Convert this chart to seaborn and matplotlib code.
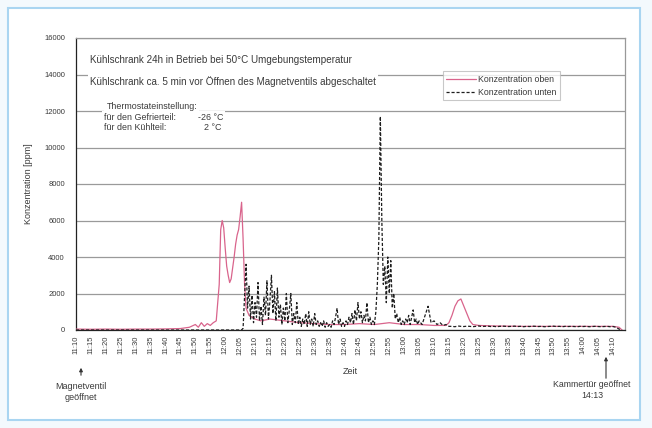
import numpy as np
import pandas as pd
import matplotlib
matplotlib.use("Agg")
import matplotlib.pyplot as plt
import seaborn as sns
from matplotlib.patches import Rectangle

# ---------------- data ----------------
# minutes after 11:10
t_oben = [0, 5, 10, 15, 20, 25, 30, 35, 38, 40, 41, 42, 43, 44, 45, 46, 47, 48,
          48.5, 49, 49.5, 50, 50.5, 51, 51.5, 52, 52.5, 53, 53.5, 54, 54.5, 55,
          55.5, 56, 56.5, 57, 58, 60, 62, 65, 70, 75, 80, 85, 90, 95, 100, 105,
          110, 115, 120, 124, 125, 126, 127, 128, 129, 130, 131, 132, 133, 135,
          140, 150, 160, 170, 180, 182, 183]
v_oben = [50, 40, 50, 40, 50, 50, 60, 80, 150, 300, 150, 400, 200, 350, 250, 400, 500, 2500,
          5500, 6000, 5600, 4500, 3500, 3000, 2600, 2800, 3400, 4000, 4700, 5200, 5500, 6200,
          7000, 5000, 2500, 1200, 800, 600, 500, 600, 500, 400, 350, 300, 300, 350, 300, 400,
          300, 300, 250, 250, 400, 800, 1300, 1600, 1700, 1300, 900, 500, 300, 250,
          220, 200, 200, 200, 200, 150, 0]

t_unten_a = [0, 54.5]
v_unten_a = [0, 0]
v_unten_b = [  # 55.0 .. 115.0, every 0.5 min
    0, 0, 100, 1800, 3600, 1200, 2400, 600, 1900, 400,
    1500, 700, 2600, 500, 1300, 300, 1800, 800, 2700, 600,
    1600, 3000, 900, 2100, 500, 2300, 700, 1400, 300, 1200,
    500, 2000, 400, 1100, 2000, 300, 900, 400, 1500, 300,
    700, 200, 600, 300, 900, 200, 1000, 300, 600, 200,
    900, 300, 500, 200, 400, 200, 500, 150, 400, 200,
    300, 150, 500, 300, 700, 1200, 300, 600, 200, 400,
    200, 500, 300, 700, 400, 900, 300, 1100, 500, 1500,
    600, 1000, 400, 800, 500, 1500, 400, 700, 300, 500,
    300, 1000, 2500, 5000, 11700, 6000, 2500, 3500, 1500, 4000,
    2000, 3800, 1200, 2000, 600, 900, 400, 700, 300, 500,
    300, 600, 400, 800, 300, 700, 1100, 400, 600, 300,
    500]
v_unten_c = [  # 116 .. 183, every minute
    300, 800, 1300, 400, 500, 300, 400, 250, 300, 200,
    200, 180, 220, 200, 190, 210, 200, 180, 200, 220,
    190, 200, 210, 190, 200, 180, 200, 210, 200, 190,
    200, 210, 190, 200, 180, 200, 190, 210, 200, 190,
    200, 180, 190, 200, 210, 190, 200, 180, 200, 190,
    200, 190, 180, 200, 190, 200, 180, 190, 200, 190,
    180, 190, 200, 180, 190, 150, 50, 0]
t_unten_b = list(np.arange(55.0, 115.01, 0.5))
t_unten_c = list(range(116, 184))

tick_minutes = list(range(0, 181, 5))
tick_labels = [f"{11 + (10 + m) // 60}:{(10 + m) % 60:02d}" for m in tick_minutes]
y_ticks = [0, 2000, 4000, 6000, 8000, 10000, 12000, 14000, 16000]

df_oben = pd.DataFrame({"t": t_oben, "v": v_oben})
df_unten = pd.DataFrame({"t": t_unten_a + t_unten_b + t_unten_c,
                         "v": v_unten_a + v_unten_b + v_unten_c})

# ---------------- plot ----------------
sns.set_theme(style="white")
plt.rcParams['font.family'] = ['Liberation Sans', 'DejaVu Sans']

TXT = '#3a3a3a'
W, H = 652, 428
fig = plt.figure(figsize=(W / 100, H / 100), dpi=100, facecolor='#f3f9fd')
frame = Rectangle((8 / W, 8 / H), 632 / W, 412 / H, transform=fig.transFigure,
                  facecolor='white', edgecolor='#a9d5f1', lw=1.5, zorder=-10)
fig.patches.append(frame)
ax = fig.add_axes([76 / W, 1 - 330 / H, 549 / W, 292 / H])
ax.set_zorder(5)
ax.set_facecolor('white')

sns.lineplot(data=df_oben, x="t", y="v", ax=ax, color='#d9648c', lw=0.9,
             estimator=None, sort=False, label="Konzentration oben", zorder=3)
sns.lineplot(data=df_unten, x="t", y="v", ax=ax, color='#1e1e1e', lw=0.9,
             estimator=None, sort=False, label="Konzentration unten", zorder=4)
ax.lines[1].set_linestyle((0, (2.5, 1.5)))

ax.set_xlim(0, 184)
ax.set_ylim(0, 16000)
ax.set_yticks(y_ticks)
ax.set_yticklabels([str(v) for v in y_ticks], fontsize=5.5)
ax.set_xticks(tick_minutes)
ax.set_xticklabels(tick_labels, rotation=90, fontsize=5.5)
ax.tick_params(axis='x', length=2, width=0.6, pad=2, colors=TXT)
ax.tick_params(axis='y', length=2, width=0.6, pad=6, colors=TXT)
ax.yaxis.grid(True, color='#9a9a9a', lw=0.9)
ax.set_axisbelow(True)
for s in ['left', 'bottom']:
    ax.spines[s].set_color('#222')
    ax.spines[s].set_linewidth(0.9)
for s in ['top', 'right']:
    ax.spines[s].set_color('#999')
    ax.spines[s].set_linewidth(0.9)

ax.set_xlabel("Zeit", fontsize=6.5, labelpad=9, color=TXT)
ax.set_ylabel("Konzentration [ppm]", fontsize=6.5, labelpad=8, color=TXT)

box = dict(facecolor='white', edgecolor='none', pad=1.5)
ax.text(4.7, 14800, "Kühlschrank 24h in Betrieb bei 50°C Umgebungstemperatur",
        fontsize=7.1, color=TXT, va='center', bbox=box, zorder=5)
ax.text(4.7, 13600, "Kühlschrank ca. 5 min vor Öffnen des Magnetventils abgeschaltet",
        fontsize=7.1, color=TXT, va='center', bbox=box, zorder=5)
ax.text(10.2, 12250, "Thermostateinstellung:", fontsize=6.4, color=TXT, va='center',
        bbox=box, zorder=5)
ax.text(9.5, 11650, "für den Gefrierteil:", fontsize=6.4, color=TXT, va='center',
        bbox=box, zorder=5)
ax.text(9.5, 11080, "für den Kühlteil:", fontsize=6.4, color=TXT, va='center',
        bbox=box, zorder=5)
ax.text(40.8, 11650, "-26 °C", fontsize=6.4, color=TXT, va='center', bbox=box, zorder=5)
ax.text(43.0, 11080, "2 °C", fontsize=6.4, color=TXT, va='center', bbox=box, zorder=5)

leg = ax.legend(loc='upper right', bbox_to_anchor=(0.882, 0.886), fontsize=6.3,
                frameon=True, fancybox=False, edgecolor='#bbbbbb', handlelength=3.4,
                borderpad=0.4, labelspacing=0.45, handletextpad=0.25, borderaxespad=0)
leg.get_frame().set_linewidth(0.8)
for t in leg.get_texts():
    t.set_color(TXT)

# annotations below the axis
def fx(px):
    return px / W

def fy(py):
    return 1 - py / H

fig.text(fx(81), fy(392), "Magnetventil\ngeöffnet", fontsize=6.5, ha='center', va='center',
         color=TXT, linespacing=1.3)
ax.annotate("", xy=(fx(81), fy(365)), xytext=(fx(81), fy(378)), xycoords='figure fraction',
            textcoords='figure fraction',
            arrowprops=dict(arrowstyle='-|>', color='#333', lw=0.8, mutation_scale=5))
fig.text(fx(592), fy(390), "Kammertür geöffnet\n14:13", fontsize=6.3, ha='center',
         va='center', color=TXT, linespacing=1.3)
ax.annotate("", xy=(fx(606), fy(354)), xytext=(fx(606), fy(381)), xycoords='figure fraction',
            textcoords='figure fraction',
            arrowprops=dict(arrowstyle='-|>', color='#333', lw=0.8, mutation_scale=5))

fig.savefig("out.png", dpi=100, facecolor=fig.get_facecolor())
